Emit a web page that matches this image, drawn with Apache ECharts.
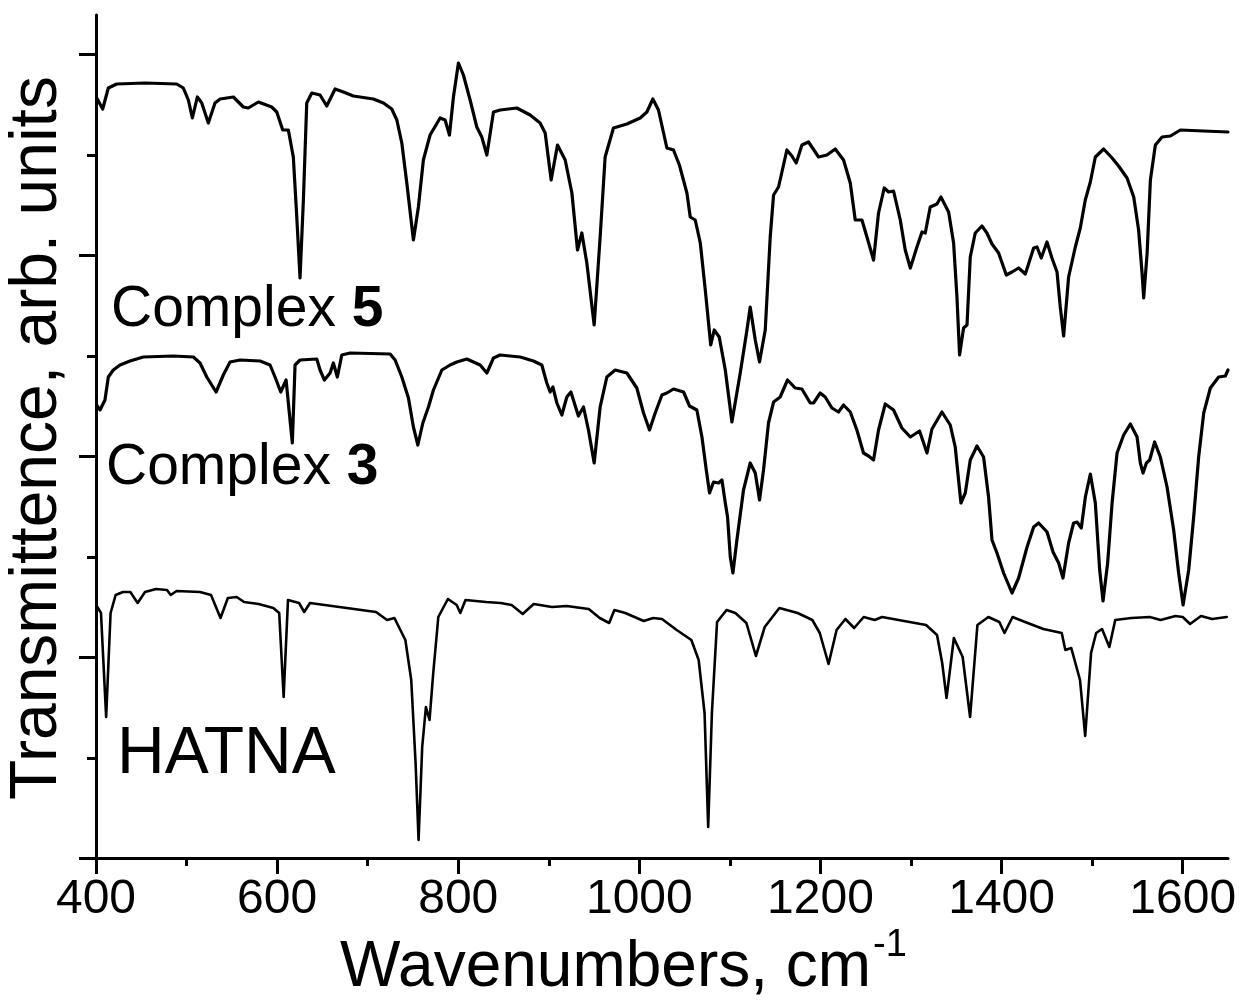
<!DOCTYPE html>
<html><head><meta charset="utf-8">
<script src="https://cdn.jsdelivr.net/npm/echarts@6/dist/echarts.min.js"></script>
<style>html,body{margin:0;padding:0;background:#fff}#c{width:1242px;height:1007px}</style>
</head><body><div id="c"></div><script>
const FONT = '"Liberation Sans", Arial, Helvetica, sans-serif';

const xMajorTicks = [400, 600, 800, 1000, 1200, 1400, 1600];
const xMinorTicks = [500, 700, 900, 1100, 1300, 1500];
const yMajorTicks = [0, 201, 402, 603, 804];
const yMinorTicks = [100, 301, 502, 703];

const seriesNames = ['Complex 5', 'Complex 3', 'HATNA'];

const complex5 = [
[400.8,760],[407.4,749],[413.6,770],[422.9,774],[454.1,775],[489.1,774],[496.4,770],[502,758],[506.4,740],[511.9,761],[516.8,755],[524,735],[531.4,755],[537,759],[551.7,761],[562.7,751],[568.2,750],[579.3,756],[594.1,751],[599.6,746],[606.2,728],[612.4,728],[617.9,701],[621.7,641],[625.3,580],[629,658],[632.7,755],[638.3,765],[647.4,763],[654.8,752],[664,769],[673.2,766],[684.2,762],[706.3,759],[717.4,755],[726.6,749],[732.2,738],[737.7,715],[743.2,675],[750.5,618],[756,651],[761.5,698],[768.9,723],[780,740],[785.5,738],[790.3,723],[794.7,761],[800.2,795],[805.7,783],[813.1,758],[820.5,731],[826,721],[831.6,703],[838.9,746],[846.3,748],[864.7,750],[879.4,743],[890.4,735],[896,725],[902.6,678],[909.6,713],[918.1,698],[925.5,665],[931.7,608],[936.5,625],[942,595],[950.1,533],[956.7,621],[962.2,701],[971.4,730],[986.2,734],[1000.9,740],[1008.3,746],[1014.9,759],[1021.1,748],[1030.4,710],[1037.7,708],[1044.2,693],[1052.5,665],[1056.2,641],[1061.7,638],[1067.3,615],[1072.8,568],[1078.8,513],[1082.7,528],[1088.2,521],[1094.9,488],[1102.2,436],[1111.4,485],[1118.8,528],[1122.4,551],[1128,518],[1132.7,496],[1139,528],[1144.5,621],[1148.2,663],[1153.7,671],[1162.9,708],[1168.4,702],[1173.2,695],[1179.5,713],[1186.8,716],[1197.9,701],[1207.1,703],[1216.3,709],[1225.5,698],[1232.9,675],[1238.4,638],[1245.8,638],[1251.3,621],[1258.6,598],[1264.1,645],[1270.4,670],[1275.2,666],[1280.7,667],[1288.1,638],[1293.6,608],[1299.2,590],[1306.5,611],[1312.1,626],[1315.7,625],[1321.2,651],[1328.6,654],[1333,661],[1341.5,646],[1347,615],[1350.7,561],[1353.6,503],[1358,530],[1361.8,533],[1365.4,601],[1370.9,625],[1378.3,632],[1383.8,625],[1389.4,614],[1396.7,605],[1405.2,583],[1411.5,586],[1418.8,590],[1426.2,584],[1435.4,610],[1439.1,611],[1443.8,600],[1450.1,616],[1455.6,600],[1461.2,586],[1464.8,551],[1468.5,522],[1474,581],[1481.4,611],[1486.9,630],[1492.4,658],[1498,676],[1503.5,701],[1512.7,709],[1522,700],[1529.2,692],[1538.5,680],[1545.9,661],[1551.3,628],[1555.1,585],[1556.9,560],[1560.7,605],[1564.3,678],[1569.8,713],[1577.2,721],[1586.4,722],[1597.4,728],[1623.2,727],[1650,726]
];

const complex3 = [
[400.8,453],[404.4,448],[409.9,458],[413.6,481],[419.1,488],[426.5,493],[437.6,497],[452.2,501],[485.4,502],[507.5,501],[514.9,495],[522.3,481],[532.6,466],[540.6,483],[548,496],[559.1,498],[581.2,497],[592.2,493],[597.7,481],[604,466],[609.9,478],[613.5,445],[616.8,415],[619.8,493],[625.3,498],[643.8,499],[647.4,488],[652.2,478],[658.5,485],[662.1,495],[666.5,481],[671.4,503],[680.6,505],[724.8,504],[730.3,498],[737.7,481],[745,460],[750.5,431],[755.4,413],[760.9,435],[767.1,451],[772.6,468],[781.9,488],[791,493],[798.4,496],[809.5,499],[824.2,493],[831.6,485],[838.9,500],[846.3,503],[868.4,501],[883,497],[892.3,493],[897.8,475],[901.5,466],[904.5,471],[908.9,455],[914.4,443],[919.9,461],[924.4,466],[932.7,442],[938.3,451],[943.8,428],[950.1,395],[956.7,451],[964.1,481],[973.3,488],[986.2,485],[997.2,470],[1004.6,445],[1011.2,428],[1017.5,445],[1024.9,463],[1030.4,465],[1037.7,469],[1048.8,466],[1055.4,452],[1063.5,448],[1069.1,421],[1073.9,388],[1077.5,365],[1081.9,376],[1087.5,375],[1091.2,378],[1094.9,355],[1097.4,341],[1100.4,301],[1103.3,285],[1107.7,318],[1115,368],[1122.4,395],[1128,385],[1132.7,358],[1137.1,388],[1142.6,435],[1148.2,456],[1155.5,461],[1163.6,478],[1172.1,470],[1179.5,469],[1188.7,455],[1192.3,455],[1199.7,465],[1205.2,461],[1212.6,450],[1219.9,446],[1225.5,453],[1232.9,446],[1240.2,428],[1247.5,405],[1253.1,402],[1258.6,398],[1264.1,428],[1271.5,454],[1280.7,448],[1289.9,430],[1299.2,421],[1309.4,427],[1317.6,405],[1323.1,429],[1334.1,446],[1343.3,433],[1348.8,411],[1352.5,378],[1355.1,355],[1359.9,365],[1365.4,398],[1372.8,412],[1380.1,401],[1385.6,361],[1389.4,318],[1394.9,305],[1402.2,285],[1411.5,265],[1418.8,280],[1428.1,311],[1435.4,331],[1440.9,335],[1450.2,326],[1456.8,306],[1463,295],[1467.8,280],[1474,315],[1479.5,335],[1483.3,336],[1488,330],[1492.5,361],[1498,384],[1503.5,355],[1508.3,288],[1512,257],[1517.1,295],[1522,355],[1527.5,405],[1534.8,423],[1542.2,434],[1549.6,421],[1553.2,395],[1556.2,385],[1559.9,395],[1563.5,398],[1569,416],[1575.3,401],[1582.7,371],[1590,328],[1595.5,285],[1600.4,253],[1606.6,288],[1612.1,341],[1617.6,401],[1623.2,445],[1630.5,470],[1639.7,481],[1647.1,482],[1650,488]
];

const hatna = [
[401.5,251],[405.5,245],[411.2,141],[416.1,245],[421.7,263],[429.8,266],[437.9,266],[446,255],[454.1,266],[466.3,269],[478.4,268],[482.5,263],[489,267],[514.9,266],[527,263],[537.5,240],[545.6,260],[555.4,261],[563.5,256],[579.6,254],[595.8,250],[602.3,245],[607.2,161],[612,258],[624.2,255],[629.9,246],[636.3,255],[660.6,252],[684.9,249],[709.2,246],[721.4,238],[729.5,240],[741.6,218],[748.1,178],[752.9,95],[756.2,18],[760.2,111],[764.3,151],[768.3,138],[772.4,185],[778,241],[788.6,259],[798.3,253],[802.3,245],[808,258],[830.7,256],[846.9,255],[859,253],[871.2,244],[883.3,254],[903.6,251],[919.8,252],[944.1,249],[956.2,240],[966.7,235],[972.4,248],[984.5,245],[1004.8,237],[1015.3,240],[1025,239],[1041.2,228],[1057.4,218],[1065.5,198],[1072,145],[1076,31],[1080.1,145],[1085.8,236],[1096.3,248],[1106,245],[1118.2,235],[1128.7,202],[1138.4,231],[1154.6,250],[1174.8,245],[1191,238],[1199.2,225],[1208.9,194],[1217.8,228],[1227.5,239],[1237.2,230],[1247.7,241],[1259.9,238],[1268,241],[1292.3,237],[1316.6,233],[1328.7,223],[1334.4,195],[1339.2,160],[1347.3,220],[1357,201],[1365.2,141],[1373.3,233],[1385.4,241],[1397.5,236],[1403.2,225],[1412.1,241],[1425.9,236],[1446.1,229],[1466.4,225],[1470.4,208],[1476.9,210],[1486.6,178],[1492.3,122],[1498.8,205],[1504.4,225],[1510.9,229],[1519,211],[1525.5,238],[1543.3,240],[1563.6,241],[1575.7,238],[1591.9,242],[1600,241],[1608.1,234],[1620.2,242],[1632.4,239],[1648.6,241]
];

const chart = echarts.init(document.getElementById('c'), null, {renderer: 'canvas'});
const black = '#000';
const axisCommon = {type: 'value', splitLine: {show: false}, scale: false};

const option = {
  animation: false,
  backgroundColor: '#fff',
  grid: {left: 96, right: 14, top: 15, bottom: 149, containLabel: false, outerBoundsMode: 'none'},
  xAxis: [
    Object.assign({}, axisCommon, {
      min: 400, max: 1650, position: 'bottom',
      axisLine: {show: true, onZero: false, lineStyle: {color: black, width: 3}},
      axisTick: {show: true, inside: false, length: 16, customValues: xMajorTicks, lineStyle: {color: black, width: 3}},
      axisLabel: {show: true, customValues: xMajorTicks, margin: 18, fontSize: 48, color: black, fontFamily: FONT,
                  formatter: function (v) { return String(v); }}
    }),
    Object.assign({}, axisCommon, {
      min: 400, max: 1650, position: 'bottom',
      axisLine: {show: false, onZero: false},
      axisTick: {show: true, inside: false, length: 8, customValues: xMinorTicks, lineStyle: {color: black, width: 3}},
      axisLabel: {show: false}
    })
  ],
  yAxis: [
    Object.assign({}, axisCommon, {
      min: 0, max: 843, position: 'left',
      axisLine: {show: true, onZero: false, lineStyle: {color: black, width: 3}},
      axisTick: {show: true, inside: false, length: 17, customValues: yMajorTicks, lineStyle: {color: black, width: 3}},
      axisLabel: {show: false}
    }),
    Object.assign({}, axisCommon, {
      min: 0, max: 843, position: 'left',
      axisLine: {show: false, onZero: false},
      axisTick: {show: true, inside: false, length: 9, customValues: yMinorTicks, lineStyle: {color: black, width: 3}},
      axisLabel: {show: false}
    })
  ],
  series: [
    {name: seriesNames[0], type: 'line', data: complex5, showSymbol: false, symbol: 'none', xAxisIndex: 0, yAxisIndex: 0,
     lineStyle: {color: black, width: 3.2, join: 'round', cap: 'round'}, emphasis: {disabled: true}},
    {name: seriesNames[1], type: 'line', data: complex3, showSymbol: false, symbol: 'none', xAxisIndex: 0, yAxisIndex: 0,
     lineStyle: {color: black, width: 3.2, join: 'round', cap: 'round'}, emphasis: {disabled: true}},
    {name: seriesNames[2], type: 'line', data: hatna, showSymbol: false, symbol: 'none', xAxisIndex: 0, yAxisIndex: 0,
     lineStyle: {color: black, width: 2.6, join: 'round', cap: 'round'}, emphasis: {disabled: true}}
  ],
  graphic: [
    {type: 'text', x: 111, y: 310, style: {text: '{n|Complex }{b|5}', align: 'left', verticalAlign: 'middle',
      rich: {n: {fontSize: 57, fontFamily: FONT, fill: black}, b: {fontSize: 57, fontFamily: FONT, fontWeight: 'bold', fill: black}}}},
    {type: 'text', x: 106, y: 468, style: {text: '{n|Complex }{b|3}', align: 'left', verticalAlign: 'middle',
      rich: {n: {fontSize: 57, fontFamily: FONT, fill: black}, b: {fontSize: 57, fontFamily: FONT, fontWeight: 'bold', fill: black}}}},
    {type: 'text', x: 117, y: 755, style: {text: 'HATNA', fontSize: 66, fontFamily: FONT, fill: black, align: 'left', verticalAlign: 'middle'}},
    {type: 'text', x: 38, y: 438, rotation: Math.PI / 2, style: {text: 'Transmittence, arb. units', fontSize: 66, fontFamily: FONT, fill: black, align: 'center', verticalAlign: 'middle'}},
    {type: 'text', x: 340, y: 968, style: {text: 'Wavenumbers, cm', fontSize: 64, fontFamily: FONT, fill: black, align: 'left', verticalAlign: 'middle'}},
    {type: 'text', x: 873, y: 946, style: {text: '-1', fontSize: 38, fontFamily: FONT, fill: black, align: 'left', verticalAlign: 'middle'}}
  ]
};
chart.setOption(option);
</script></body></html>
